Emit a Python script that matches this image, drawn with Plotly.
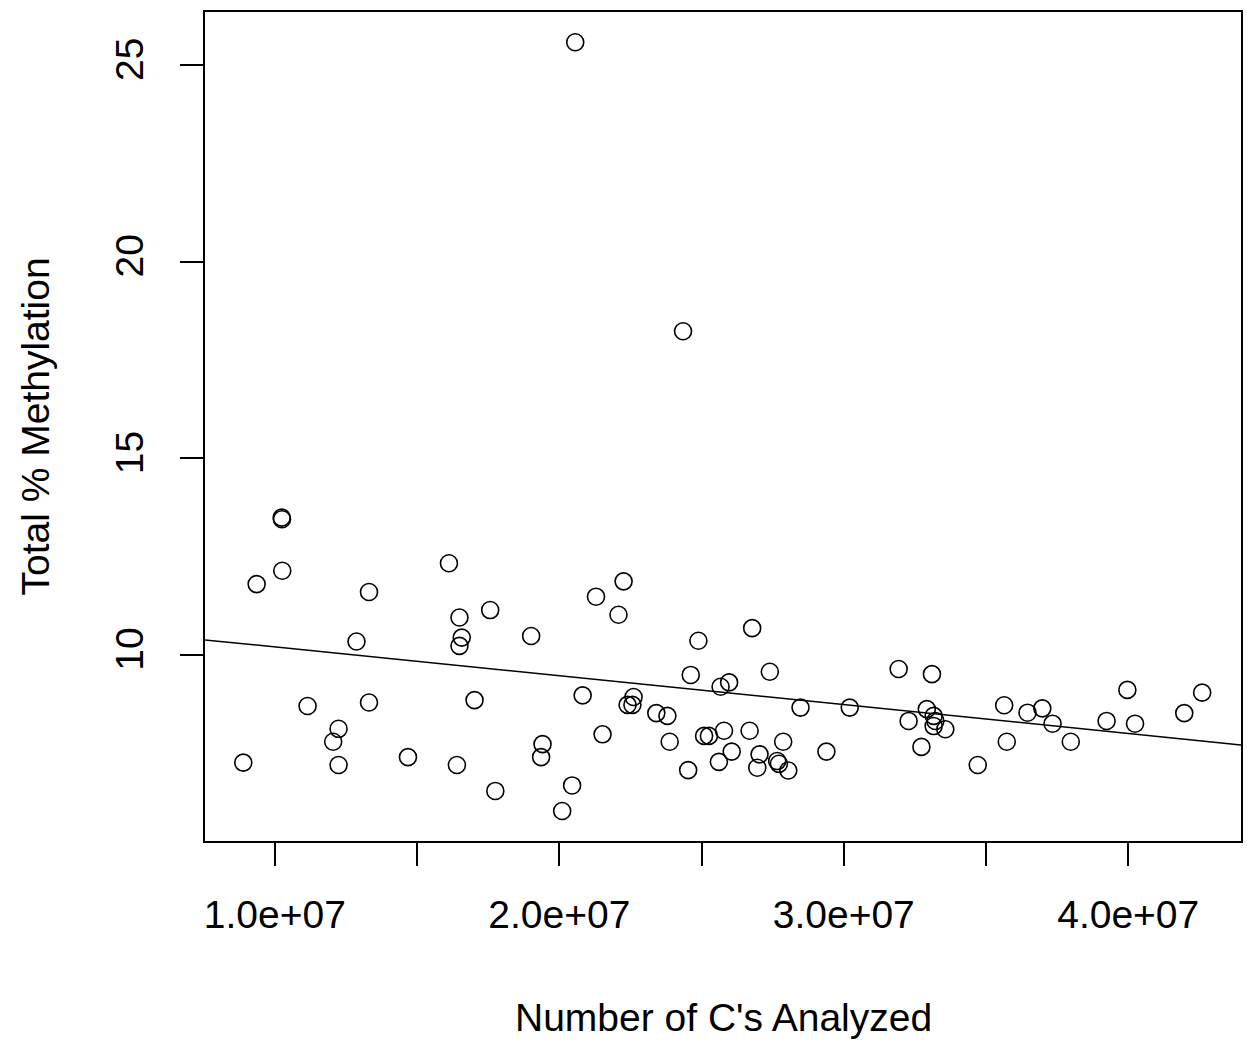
import numpy as np
import plotly.graph_objects as go

# Number of C's analyzed (x) and total % methylation (y)
cs_analyzed = [
    1.024e7, 1.025e7, 1.026e7, 0.936e7, 1.331e7, 1.612e7, 1.757e7, 1.649e7, 1.657e7, 1.649e7,
    1.901e7, 1.287e7, 1.115e7, 1.331e7, 1.702e7, 1.224e7, 1.205e7, 0.889e7, 1.224e7, 1.468e7,
    1.640e7, 1.775e7, 1.941e7, 1.936e7, 2.226e7, 2.129e7, 2.208e7, 2.678e7, 2.489e7, 2.462e7,
    2.740e7, 2.567e7, 2.597e7, 2.082e7, 2.261e7, 2.240e7, 2.257e7, 2.341e7, 2.380e7, 2.848e7,
    3.021e7, 2.152e7, 2.388e7, 2.509e7, 2.526e7, 2.579e7, 2.669e7, 2.787e7, 2.606e7, 2.939e7,
    2.561e7, 2.704e7, 2.696e7, 2.766e7, 2.772e7, 2.805e7, 2.453e7, 2.045e7, 2.010e7, 3.193e7,
    3.310e7, 3.292e7, 3.316e7, 3.322e7, 3.316e7, 3.357e7, 3.228e7, 3.273e7, 3.471e7, 3.564e7,
    3.573e7, 3.646e7, 3.698e7, 3.734e7, 3.798e7, 3.997e7, 3.924e7, 4.024e7, 4.197e7, 4.260e7,
    2.056e7, 2.435e7,
]
total_methylation = [
    13.49, 13.45, 12.14, 11.80, 11.60, 12.33, 11.14, 10.95, 10.44, 10.23,
    10.48, 10.34, 8.70, 8.79, 8.85, 8.12, 7.79, 7.26, 7.20, 7.40,
    7.20, 6.54, 7.73, 7.40, 11.87, 11.48, 11.02, 10.68, 10.36, 9.49,
    9.57, 9.19, 9.30, 8.97, 8.93, 8.73, 8.73, 8.52, 8.45, 8.66,
    8.66, 7.98, 7.79, 7.94, 7.94, 8.07, 8.07, 7.79, 7.54, 7.54,
    7.28, 7.47, 7.13, 7.30, 7.23, 7.06, 7.07, 6.68, 6.03, 9.64,
    9.51, 8.62, 8.45, 8.32, 8.19, 8.11, 8.32, 7.66, 7.20, 8.72,
    7.79, 8.53, 8.64, 8.25, 7.79, 9.11, 8.32, 8.25, 8.52, 9.04,
    25.58, 18.23,
]

x_range = [0.7544e7, 4.3965e7]
y_range = [5.267, 26.349]
x_tickvals = [1.0e7, 1.5e7, 2.0e7, 2.5e7, 3.0e7, 3.5e7, 4.0e7]
x_ticktext = ["1.0e+07", "", "2.0e+07", "", "3.0e+07", "", "4.0e+07"]
y_tickvals = [10, 15, 20, 25]
y_ticktext = ["10", "15", "20", "25"]

# least-squares fit (abline(lm(y ~ x)))
slope, intercept = np.polyfit(np.array(cs_analyzed), np.array(total_methylation), 1)
line_x = np.array(x_range)
line_y = intercept + slope * line_x

FONT = "Liberation Sans, Arial, sans-serif"

fig = go.Figure()
fig.add_trace(go.Scatter(
    x=cs_analyzed, y=total_methylation, mode="markers",
    marker=dict(symbol="circle-open", size=17, color="black", line=dict(width=1.6, color="black")),
    showlegend=False, hoverinfo="skip",
))
fig.add_trace(go.Scatter(
    x=line_x, y=line_y, mode="lines",
    line=dict(color="black", width=1.5),
    showlegend=False, hoverinfo="skip",
))

axis_common = dict(
    showline=True, linecolor="black", linewidth=1.6, mirror=True,
    showgrid=False, zeroline=False,
    ticks="outside", ticklen=23, tickwidth=1.6, tickcolor="black",
    tickfont=dict(family=FONT, size=39, color="black"),
)
fig.update_xaxes(range=x_range, tickmode="array", tickvals=x_tickvals, ticktext=x_ticktext,
                 ticklabelstandoff=15, **axis_common)
fig.update_yaxes(range=y_range, tickmode="array", tickvals=y_tickvals, ticktext=y_ticktext,
                 tickangle=-90, ticklabelstandoff=22, **axis_common)

fig.update_layout(
    width=1247, height=1047,
    margin=dict(l=205, r=4, t=12, b=206),
    paper_bgcolor="white", plot_bgcolor="white",
    font=dict(family=FONT, color="black"),
    annotations=[
        dict(text="Number of C's Analyzed", x=0.5, xref="paper", y=0, yref="paper",
             xanchor="center", yanchor="middle", yshift=-176, showarrow=False,
             font=dict(family=FONT, size=39, color="black")),
        dict(text="Total % Methylation", x=0, xref="paper", y=0.5, yref="paper",
             xanchor="center", yanchor="middle", xshift=-170, textangle=-90, showarrow=False,
             font=dict(family=FONT, size=39, color="black")),
    ],
)

fig.write_html("out.html")
